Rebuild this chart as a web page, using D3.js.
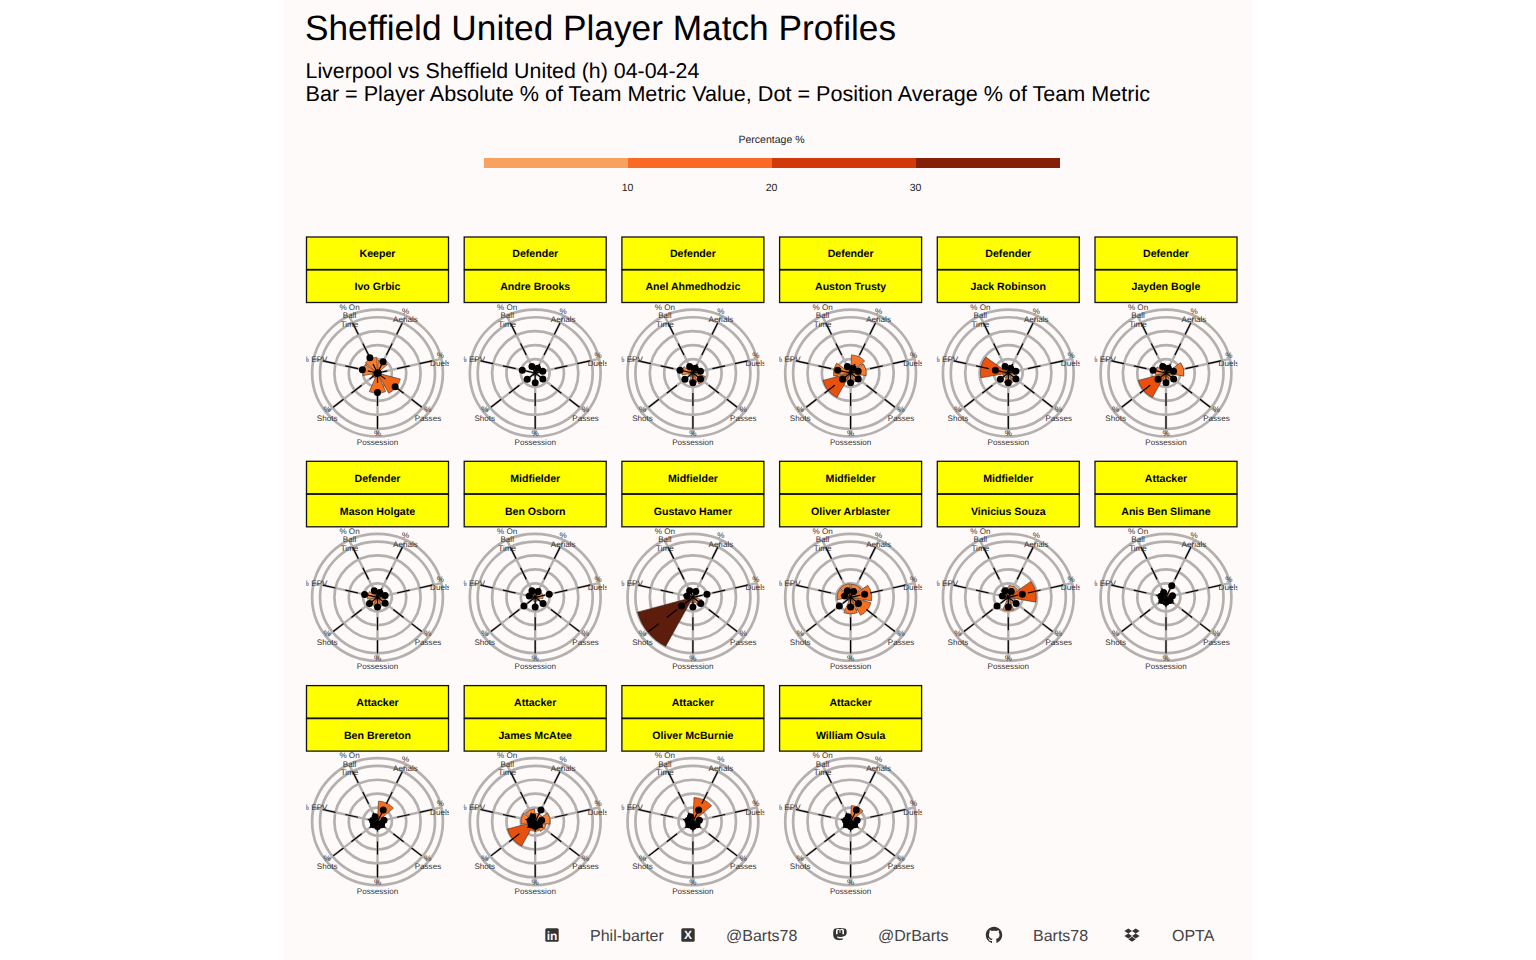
<!DOCTYPE html>
<html><head><meta charset="utf-8">
<script src="https://cdn.jsdelivr.net/npm/d3@7/dist/d3.min.js"></script>
<style>html,body{margin:0;padding:0;background:#fff;overflow:hidden}svg{display:block}text{font-family:"Liberation Sans",Arial,sans-serif;text-rendering:geometricPrecision;opacity:.995}</style>
</head><body><div id="c"></div>
<script>
const titleText="Sheffield United Player Match Profiles";
const subtitleLines=["Liverpool vs Sheffield United (h) 04-04-24","Bar = Player Absolute % of Team Metric Value, Dot = Position Average % of Team Metric"];
const subtitleSizes=[21.36,21.6];
const metrics=["Aerials","Duels","Passes","Possession","Shots","EPV","On Ball Time"];
const metricLabels=[["%","Aerials"],["%","Duels"],["%","Passes"],["%","Possession"],["%","Shots"],["% EPV"],["% On","Ball","Time"]];
const players=["Ivo Grbic","Andre Brooks","Anel Ahmedhodzic","Auston Trusty","Jack Robinson","Jayden Bogle","Mason Holgate","Ben Osborn","Gustavo Hamer","Oliver Arblaster","Vinicius Souza","Anis Ben Slimane","Ben Brereton","James McAtee","Oliver McBurnie","William Osula"];
const positions=["Keeper","Defender","Defender","Defender","Defender","Defender","Defender","Midfielder","Midfielder","Midfielder","Midfielder","Attacker","Attacker","Attacker","Attacker","Attacker"];
const playerValues=[
[9,2,16.5,14.5,4,10.3,11.2],
[2,2,1.5,2,2,1.5,2],
[3,3,9,7,3,7.7,5],
[13,11,7,7,20,12,4],
[2,3,6,7.5,4,19.4,3],
[2,12.6,5,6,20,7.5,6],
[2,4,6,7,6,7,3],
[2,5.5,3,3,2,3,3],
[2,3,6.5,4,40,3,2],
[9.5,14.7,14.7,12,3,9.5,9.7],
[8.5,19.4,5,9.7,2,3,7],
[3,3,2,2,2,2,3],
[14.7,2,1.5,1.5,1,1,1.5],
[6,10.5,8,7,20,10,9],
[17.3,1,1.5,1,1,1,1],
[11.5,1.5,1,1,1,1,1.5]];
const avgKeeper=[9,0.5,15.7,14,0.5,10.8,12.2];
const avgDefender=[3.8,5.4,6.8,7,7.1,9.2,5.2];
const avgMidfielder=[4.7,10,7,7,10,4.2,5.2];
const avgAttacker=[9.2,4.6,3.6,3.5,3.6,3.6,3.8];
const avgByPosition={Keeper:avgKeeper,Defender:avgDefender,Midfielder:avgMidfielder,Attacker:avgAttacker};
const ringBreaks=[10,20,30,40,45.5];
const legendBreaks=[10,20,30];
const legendBins=[[0,10],[10,20],[20,30],[30,40]];
const legendColors=["#F7A25F","#FA6A24","#D2380A","#842008"];
const footerItems=[["linkedin","Phil-barter"],["x","@Barts78"],["mastodon","@DrBarts"],["github","Barts78"],["dropbox","OPTA"]];

const W=1536,H=960;
const svg=d3.select("#c").append("svg").attr("width",W).attr("height",H);
svg.append("rect").attr("x",284).attr("y",0).attr("width",968).attr("height",H).attr("fill","#FFFAFA");
svg.append("text").attr("x",305).attr("y",40).attr("font-size",35.25).attr("fill","#000").text(titleText);
subtitleLines.forEach((t,i)=>svg.append("text").attr("x",305.5).attr("y",78+i*23).attr("font-size",subtitleSizes[i]).attr("fill","#000").text(t));

// legend
const lx=d3.scaleLinear().domain([0,40]).range([484,1060]);
svg.append("text").attr("x",lx(20)-0.5).attr("y",143).attr("text-anchor","middle").attr("font-size",10.5).attr("fill","#222").text("Percentage %");
svg.selectAll(".lg").data(legendBins).join("rect").attr("x",d=>lx(d[0])).attr("y",158).attr("width",d=>lx(d[1])-lx(d[0])).attr("height",10).attr("fill",(d,i)=>legendColors[i]);
svg.selectAll(".lt").data(legendBreaks).join("text").attr("x",d=>lx(d)-0.5).attr("y",191).attr("text-anchor","middle").attr("font-size",10.5).attr("fill","#222").text(d=>d);

// panels
const colX=d3.scaleLinear().domain([0,5]).range([377.5,1166]);
const rowY=d3.scaleLinear().domain([0,2]).range([373,821.6]);
const r=d3.scaleLinear().domain([0,45.5]).range([0,65.4]);
const squash=0.97;
const ang=d3.scaleBand().domain(metrics).range([0,2*Math.PI]);
const wedgeFill=d3.scaleLinear().domain([0,10,15,20,40]).range(["#FDAE6B","#FB8035","#F56E1C","#E8500D","#5C1D0C"]);
const clipBottoms=[448,670.5,895];
const defs=svg.append("defs");
const arc=d3.arc();
const labelR=64.5;

players.forEach((name,i)=>{
  const col=i%6,row=Math.floor(i/6);
  const cx=colX(col),cy=rowY(row);
  const topY=cy-136;
  // strips
  const s=svg.append("g");
  [[positions[i],0],[name,33]].forEach(([t,dy])=>{
    s.append("rect").attr("x",cx-71).attr("y",topY+dy).attr("width",142).attr("height",32.5).attr("fill","#FFFF00").attr("stroke","#111").attr("stroke-width",1.3);
    s.append("text").attr("x",cx).attr("y",topY+dy+20.3).attr("text-anchor","middle").attr("font-size",10.6).attr("font-weight","bold").attr("fill","#000").text(t);
  });
  const id="clip"+i;
  defs.append("clipPath").attr("id",id).append("rect").attr("x",cx-71.5).attr("y",topY+66).attr("width",143).attr("height",clipBottoms[row]-(topY+66));
  const g=svg.append("g").attr("clip-path",`url(#${id})`).append("g").attr("transform",`translate(${cx},${cy})`);
  g.selectAll(".ring").data(ringBreaks).join("ellipse").attr("rx",d=>r(d)).attr("ry",d=>r(d)*squash).attr("fill","none").attr("stroke","#B3B0AE").attr("stroke-width",2.7);
  const mid=m=>ang(m)+ang.bandwidth()/2;
  const px=(a,v)=>Math.sin(a)*v, py=(a,v)=>-Math.cos(a)*v*squash;
  g.selectAll(".sp").data(metrics).join("line").attr("x1",0).attr("y1",0).attr("x2",m=>px(mid(m),r(45.5))).attr("y2",m=>py(mid(m),r(45.5))).attr("stroke","#B3B0AE").attr("stroke-width",2.4);
  const bw=ang.bandwidth()*0.9;
  g.selectAll(".w").data(metrics).join("path").attr("transform",`scale(1,${squash})`)
    .attr("d",(m,k)=>arc({innerRadius:0,outerRadius:r(playerValues[i][k]),startAngle:mid(m)-bw/2,endAngle:mid(m)+bw/2}))
    .attr("fill",(m,k)=>wedgeFill(playerValues[i][k])).attr("stroke","#3a2a20").attr("stroke-width",0.6);
  g.selectAll(".dash").data(metrics).join("line").attr("x1",0).attr("y1",0).attr("x2",m=>px(mid(m),r(45.5))).attr("y2",m=>py(mid(m),r(45.5))).attr("stroke","#000").attr("stroke-width",1.2).attr("stroke-dasharray","10,10,13,10,13,20");
  const avg=avgByPosition[positions[i]];
  g.selectAll(".d").data(metrics).join("circle").attr("cx",(m,k)=>px(mid(m),r(avg[k]))).attr("cy",(m,k)=>py(mid(m),r(avg[k]))).attr("r",3.5).attr("fill","#000");
  metrics.forEach((m,k)=>{
    const lines=metricLabels[k];
    const lh=8.6;
    lines.forEach((t,n)=>{
      g.append("text").attr("x",px(mid(m),labelR)).attr("y",-Math.cos(mid(m))*labelR+(n-(lines.length-1)/2)*lh+3.2)
       .attr("text-anchor","middle").attr("font-size",8.1).attr("fill","#333").text(t);
    });
  });
});

// footer
const footIconX=[552,688,840,994,1132], footTextX=[590,726,878,1033,1172];
const iconPaths={
 github:"M0-8.2C-4.6-8.2-8.2-4.5-8.2.1c0 3.6 2.3 6.7 5.6 7.8.4.1.6-.2.6-.4V5.9c-2.3.5-2.8-1-2.8-1-.4-.9-.9-1.2-.9-1.2-.7-.5.1-.5.1-.5.8.1 1.3.9 1.3.9.7 1.3 1.9.9 2.4.7.1-.5.3-.9.5-1.1-1.8-.2-3.7-.9-3.7-4 0-.9.3-1.6.8-2.2-.1-.2-.4-1 .1-2.2 0 0 .7-.2 2.3.8.7-.2 1.4-.3 2.1-.3s1.4.1 2.1.3c1.6-1 2.3-.8 2.3-.8.5 1.2.2 2 .1 2.2.5.6.8 1.3.8 2.2 0 3.2-1.9 3.8-3.7 4 .3.3.6.8.6 1.500v2.2c0 .2.2.5.6.4C5.9 6.8 8.2 3.7 8.2.1 8.2-4.5 4.6-8.2 0-8.2Z",
 dropbox:"M-3.7-6.500-7.600-4-3.700-1.500 0-4ZM3.700-6.500 0-4 3.700-1.500 7.600-4ZM-3.700-1.500-7.600 1-3.700 3.500 0 1ZM3.700-1.500 0 1 3.700 3.500 7.600 1ZM0 1.800-3.700 4.300 0 6.800 3.700 4.300Z",
 mastodon:"M6.800-2.500C6.800-5.500 5.600-6.300 5.600-6.300 4.300-7 2-7.100 0-7.100S-4.300-7-5.600-6.300C-5.600-6.300-6.800-5.500-6.800-2.500-6.800.500-7 3.600-3.400 4.700-2 5.100-.600 5.200.500 5.100 1.800 5 2.800 4.600 2.800 4.600V3.300C.300 3.900-2.800 3.700-3.200 1.600-2 1.900-.700 2 .400 2 3 1.900 5.300 1.200 5.900.100 6.500-1 6.800-1.500 6.800-2.500ZM4-.800H2.400V-3.800C2.400-5.500.400-5.500.400-3.600V-2H-.400V-3.600C-.400-5.500-2.400-5.500-2.400-3.800V-.8H-4V-4C-4-6.800-.600-6.700 0-4.800.600-6.700 4-6.800 4-4Z"
};
const f=svg.append("g");
footerItems.forEach(([ic,t],i)=>{
  const g=f.append("g").attr("transform",`translate(${footIconX[i]},935)`);
  if(ic==="linkedin"||ic==="x"){
    g.append("rect").attr("x",-6.7).attr("y",-6.7).attr("width",13.4).attr("height",13.4).attr("rx",1.5).attr("fill","#333");
    if(ic==="linkedin") g.append("text").attr("text-anchor","middle").attr("y",4.6).attr("font-size",12).attr("font-weight","bold").attr("fill","#FFFAFA").text("in");
    else g.append("text").attr("text-anchor","middle").attr("y",4.2).attr("font-size",12).attr("font-weight","bold").attr("fill","#FFFAFA").text("X");
  } else {
    g.append("path").attr("d",iconPaths[ic]).attr("fill","#333").attr("fill-rule","evenodd");
  }
  f.append("text").attr("x",footTextX[i]).attr("y",941).attr("font-size",16).attr("fill","#444").text(t);
});
</script></body></html>
